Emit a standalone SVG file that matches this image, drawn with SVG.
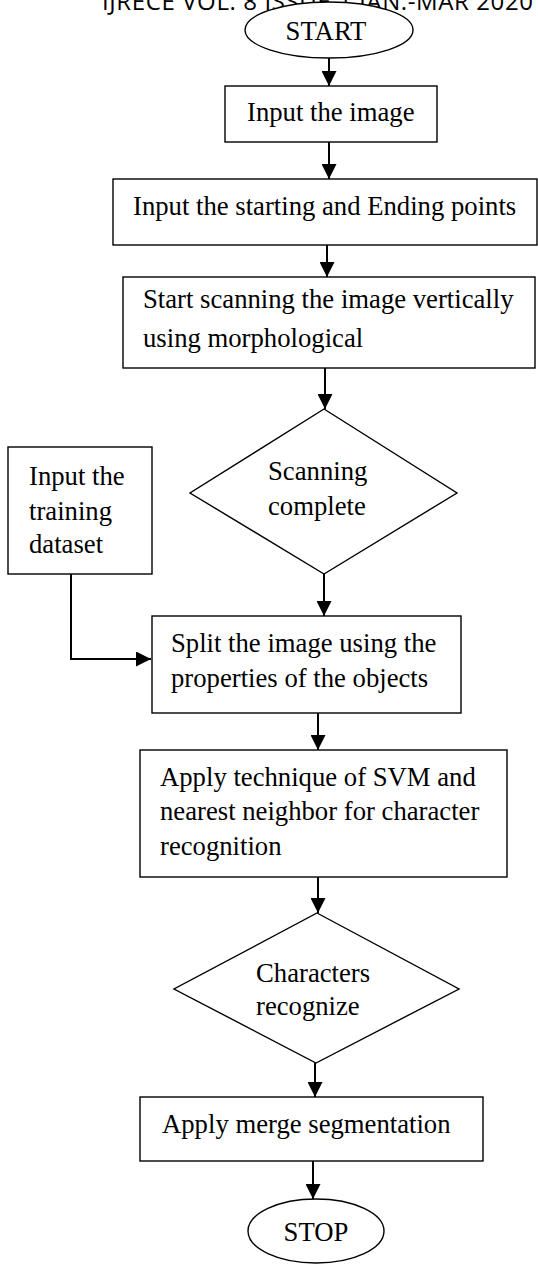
<svg xmlns="http://www.w3.org/2000/svg" width="538" height="1264" viewBox="0 0 538 1264">
<defs>
<marker id="arr" markerUnits="userSpaceOnUse" markerWidth="16" markerHeight="15" refX="15" refY="7.5" orient="auto">
<path d="M0,0 L15,7.5 L0,15 z" fill="#000"/>
</marker>
<style>
.shape{fill:#fff;stroke:#000;stroke-width:1.4}
.t{font-family:"Liberation Serif","Times New Roman",serif;font-size:26.7px;fill:#000}
.hdr{font-family:"Open Sans","Liberation Sans",sans-serif;font-size:24px;fill:#000}
.conn{fill:none;stroke:#000;stroke-width:2;marker-end:url(#arr)}
</style>
</defs>
<rect width="538" height="1264" fill="#fff"/>
<text class="hdr" x="102" y="9.5" textLength="431">IJRECE VOL. 8 ISSUE 1 JAN.-MAR 2020</text>
<g id="connectors">
<path class="conn" d="M329,58 L329,86"/>
<path class="conn" d="M329,142 L329,179"/>
<path class="conn" d="M327,245 L327,277"/>
<path class="conn" d="M325,368 L325,409"/>
<path class="conn" d="M324,574 L324,616"/>
<path class="conn" d="M71,574 L71,659 L151,659"/>
<path class="conn" d="M318,713 L318,750"/>
<path class="conn" d="M318,877 L318,913"/>
<path class="conn" d="M315,1063 L315,1097"/>
<path class="conn" d="M313,1161 L313,1199"/>
</g>
<g id="start">
<ellipse class="shape" cx="329" cy="30" rx="84" ry="28"/>
<text class="t" x="326" y="40" text-anchor="middle">START</text>
</g>
<g id="input-image">
<rect class="shape" x="225" y="86" width="212" height="56"/>
<text class="t" x="247" y="121">Input the image</text>
</g>
<g id="input-points">
<rect class="shape" x="113" y="179" width="424" height="66"/>
<text class="t" x="133" y="215">Input the starting and Ending points</text>
</g>
<g id="scan">
<rect class="shape" x="123" y="277" width="412" height="91"/>
<text class="t" x="143" y="308">Start scanning the image vertically</text>
<text class="t" x="143" y="347">using morphological</text>
</g>
<g id="scan-complete">
<polygon class="shape" points="324,409 457,493 324,574 190,493"/>
<text class="t" x="268" y="480">Scanning</text>
<text class="t" x="268" y="515">complete</text>
</g>
<g id="training">
<rect class="shape" x="8" y="447" width="144" height="127"/>
<text class="t" x="29" y="485">Input the</text>
<text class="t" x="29" y="520">training</text>
<text class="t" x="29" y="553">dataset</text>
</g>
<g id="split">
<rect class="shape" x="152" y="616" width="309" height="97"/>
<text class="t" x="171" y="652">Split the image using the</text>
<text class="t" x="171" y="687">properties of the objects</text>
</g>
<g id="svm">
<rect class="shape" x="140" y="750" width="367" height="127"/>
<text class="t" x="160" y="786">Apply technique of SVM and</text>
<text class="t" x="160" y="820">nearest neighbor for character</text>
<text class="t" x="160" y="855">recognition</text>
</g>
<g id="char-recognize">
<polygon class="shape" points="317,913 459,989 316,1063 174,989"/>
<text class="t" x="256" y="982">Characters</text>
<text class="t" x="256" y="1015">recognize</text>
</g>
<g id="merge">
<rect class="shape" x="140" y="1097" width="343" height="64"/>
<text class="t" x="162" y="1133">Apply merge segmentation</text>
</g>
<g id="stop">
<ellipse class="shape" cx="316" cy="1231" rx="68" ry="32"/>
<text class="t" x="316" y="1241" text-anchor="middle">STOP</text>
</g>
</svg>
